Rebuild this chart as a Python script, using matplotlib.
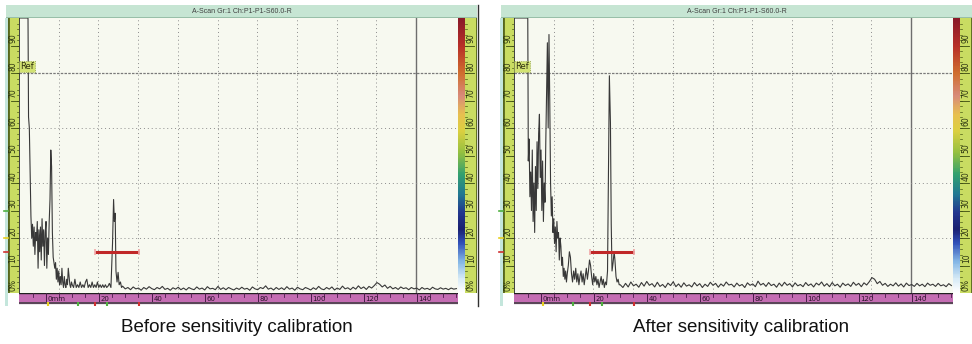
import numpy as np
import matplotlib
matplotlib.use("Agg")
import matplotlib.pyplot as plt
from matplotlib.colors import LinearSegmentedColormap
from matplotlib.lines import Line2D
from matplotlib.patches import Rectangle
from matplotlib.transforms import blended_transform_factory

W, H = 972, 344

# ---- data -----------------------------------------------------------------
scan_title = "A-Scan Gr:1 Ch:P1-P1-S60.0-R"
captions = ["Before sensitivity calibration", "After sensitivity calibration"]

amp_ticks = [0, 10, 20, 30, 40, 50, 60, 70, 80, 90]
amp_labels = ["0%", "10", "20", "30", "40", "50", "60", "70", "80", "90"]
mm_ticks = [0, 20, 40, 60, 80, 100, 120, 140]
mm_labels = ["0mm", "20", "40", "60", "80", "100", "120", "140"]

x_range = (-10.1, 155.6)      # mm shown across the A-scan
ref_level = 80                # %
gate_start, gate_end, gate_level = 18.6, 35.2, 15

bottom_marks_mm = [0.9, 12.2, 18.6, 23.1, 35.2]
bottom_marks_col = ["#e8d020", "#4fb040", "#d03030", "#4fb040", "#d03030"]
side_marks_amp = [30, 20, 15]
side_marks_col = ["#4fb040", "#e8d020", "#d03030"]

# before calibration: near part (mm, %)
before_near_mm = [-10.1, -6.7, -6.5, -6.2, -5.9, -5.6, -5.3, -5.0, -4.7, -4.4, -4.1, -3.8, -3.5,
                  -3.2, -2.9, -2.6, -2.3, -2.0, -1.7, -1.4, -1.1, -0.8, -0.5, -0.2, 0.1, 0.4, 0.7,
                  1.0, 1.3, 1.6, 1.9, 2.2, 2.5, 2.8, 3.1, 3.4, 3.7, 4.0, 4.3, 4.6, 4.9, 5.2, 5.5,
                  5.8, 6.1, 6.4, 6.7, 7.0, 7.3, 7.6, 7.9, 8.2, 8.5, 8.8, 9.1, 9.4, 9.7, 10.0, 10.5,
                  11.0, 11.5, 12.0, 12.5, 13.0, 13.5, 14.0, 14.5, 15.0, 15.5, 16.0, 16.5, 17.0,
                  17.5, 18.0, 18.5, 19.0, 19.5, 20.0, 20.5, 21.0, 21.5, 22.0, 22.5, 23.0, 23.5,
                  24.0, 24.6, 25.2, 25.6, 25.9, 26.2, 26.5, 26.9, 27.3, 27.7, 28.2, 28.6]
before_near_amp = [100, 100, 64, 60, 44, 28, 20, 25, 17, 24, 14, 22, 19,
                   26, 9, 23, 15, 24, 12, 27, 17, 23, 10, 22, 26, 9, 20,
                   14, 26, 34, 52, 46, 22, 13, 11, 9, 11, 5, 9, 4, 8, 3, 6,
                   3, 9, 4, 2, 6, 3, 2, 5, 3, 9, 6, 3, 2, 4, 3, 2,
                   5, 2, 3, 2, 4, 2, 3, 2, 4, 5, 2, 3, 2,
                   4, 2, 3, 2, 4, 2, 3, 2, 3, 2, 3, 2, 2.5,
                   3.5, 2, 18, 34, 26, 29, 8, 4, 7.5, 3, 4, 2]
# before calibration: far part, one value per mm from 29 mm
before_far_amp = [2.5, 1.5, 2, 1.2, 2.2, 1.5, 1.8, 1, 2, 1.4, 2.3, 1.6, 1.2, 2, 1.5, 2.4, 1.3, 1.7,
                  1, 1.9, 1.4, 2.1, 1.2, 1.8, 1.1, 2, 1.5, 1.2, 2.2, 1.4, 1.8, 1.1, 2.3, 1.5, 1.7,
                  1.2, 2.4, 1.3, 1.9, 1.2, 2, 1.5, 1.1, 1.8, 1.3, 2.1, 1.4, 1.7, 1, 2.2, 1.5, 1.2,
                  2, 1.6, 2.6, 1.4, 1.8, 1.1, 2, 1.3, 1.9, 1.2, 2.3, 1.4, 1.8, 1, 2.1, 1.5, 1.2, 2,
                  1.6, 1.1, 1.9, 1.3, 2.4, 1.5, 1.2, 2, 1.4, 2.2, 1.1, 1.8, 1.3, 2.5, 1.5, 1.9,
                  1.2, 2.1, 1.4, 2.6, 1.6, 2.2, 1.3, 2.4, 1.8, 2.7, 3.8, 3.2, 2.2, 2.9, 1.7, 2.4,
                  1.5, 2, 1.3, 2.2, 1.6, 1.9, 1.2, 2, 1.5, 1.8, 1.1, 2, 1.4, 1.7, 1.2, 2.1, 1.5,
                  1.3, 1.9, 1.4, 1.7, 1.2, 1.8, 1.4, 1.6]

# after calibration: near part (mm, %)
after_near_mm = [-10.1, -4.9, -4.7, -4.4, -4.1, -3.8, -3.5, -3.2, -2.9, -2.6, -2.3, -2.0, -1.7,
                 -1.4, -1.1, -0.8, -0.5, -0.2, 0.1, 0.4, 0.7, 1.0, 1.3, 1.6, 1.9, 2.2, 2.5, 2.8,
                 3.1, 3.4, 3.7, 4.0, 4.3, 4.6, 4.9, 5.2, 5.5, 5.8, 6.1, 6.4, 6.7, 7.0, 7.3, 7.6,
                 7.9, 8.2, 8.5, 8.8, 9.1, 9.4, 9.7, 10.0, 10.4, 10.8, 11.2, 11.6, 12.0, 12.4,
                 12.8, 13.2, 13.6, 14.0, 14.4, 14.8, 15.2, 15.6, 16.0, 16.4, 16.8, 17.2, 17.6,
                 18.0, 18.4, 18.8, 19.2, 19.6, 20.0, 20.4, 20.8, 21.2, 21.6, 22.0, 22.4, 22.8,
                 23.2, 23.6, 24.0, 24.4, 24.8, 25.2, 25.5, 25.9, 26.3, 26.6, 26.9, 27.3, 27.7,
                 28.0, 28.4, 28.8, 29.2, 29.6]
after_near_amp = [100, 100, 48, 56, 35, 44, 30, 52, 26, 40, 22, 46, 30,
                  55, 38, 58, 65, 42, 52, 30, 48, 26, 40, 33, 55, 72, 91, 60,
                  94, 70, 40, 28, 35, 22, 27, 18, 24, 15, 26, 20, 22, 12, 20, 17,
                  10, 13, 6, 9, 5, 8, 4, 7, 10, 15, 13, 7, 4, 8,
                  5, 9, 4, 7, 3, 6, 8, 4, 7, 3, 6, 9, 5,
                  8, 12, 10, 6, 3, 7, 4, 6, 3, 5, 2, 4, 6,
                  3, 5, 2, 4, 3, 8, 40, 79, 62, 25, 8, 11, 15,
                  12, 6, 4, 5, 3]
# after calibration: far part, one value per mm from 30 mm
after_far_amp = [3, 2, 3.5, 2.2, 4, 2.6, 3.2, 2.1, 3.8, 2.5, 4.2, 2.8, 3.4, 2.2, 3.9, 2.4, 3.1, 2,
                 3.6, 2.7, 4.1, 2.3, 3.3, 2.1, 3.7, 2.5, 3, 2.2, 3.8, 2.6, 3.4, 2, 3.2, 2.4, 3.9,
                 2.8, 3.5, 2.1, 3.3, 2.5, 4, 2.9, 3.2, 2.2, 3.6, 2.6, 3.1, 2, 3.7, 2.8, 3.3, 2.3,
                 4.3, 2.9, 3.5, 2.4, 3.8, 2.7, 3.2, 2.1, 3.6, 2.5, 3.9, 2.8, 3.4, 2.2, 3.7, 2.6,
                 3.1, 2.3, 3.8, 2.7, 3.3, 2.2, 3.6, 2.9, 4, 2.5, 3.4, 2.3, 3.8, 2.6, 3.2, 2.1, 3.6,
                 2.7, 3.3, 2.4, 3.9, 2.8, 3.5, 2.3, 3.7, 2.9, 4.1, 5.6, 5, 3.4, 4.2, 2.8, 3.5,
                 2.4, 3.2, 2.6, 3.7, 2.5, 3.3, 2.2, 3.6, 2.7, 3.1, 2.4, 3.5, 2.6, 3.2, 2.3, 3.6,
                 2.8, 3.2, 2.4, 3.5, 2.6, 3, 2.3, 3.4, 2.7]

before_mm = before_near_mm + list(np.arange(29, 29 + len(before_far_amp)))
before_amp = before_near_amp + before_far_amp
after_mm = after_near_mm + list(np.arange(30, 30 + len(after_far_amp)))
after_amp = after_near_amp + after_far_amp

# ---- style ----------------------------------------------------------------
plot_bg = "#f7f9f0"
ruler_col = "#c9dc62"
ruler_edge = "#56661c"
magenta = "#c46db3"
title_bg = "#c6e5d3"
trace_col = "#383838"

amp_cmap = LinearSegmentedColormap.from_list("amp", [
    (0.00, "#ffffff"), (0.05, "#d6eaf6"), (0.11, "#86b8e6"), (0.18, "#3050b8"),
    (0.23, "#1a2070"), (0.29, "#22368e"), (0.36, "#227a92"), (0.43, "#32a070"),
    (0.51, "#94c040"), (0.59, "#dcd040"), (0.65, "#e8c050"), (0.72, "#d88a7a"),
    (0.80, "#d07030"), (0.90, "#b83028"), (1.00, "#8a1a28")])

fig = plt.figure(figsize=(W / 100, H / 100), dpi=100)
fig.patch.set_facecolor("white")


def px(x0, y0, x1, y1):
    # pixel box (top-left origin) -> figure fraction rect
    return [x0 / W, 1 - y1 / H, (x1 - x0) / W, (y1 - y0) / H]


def bare(ax, face):
    ax.set_facecolor(face)
    ax.set_xticks([])
    ax.set_yticks([])
    for s in ax.spines.values():
        s.set_visible(False)


def amp_ruler(x0, x1, side):
    r = fig.add_axes(px(x0, 18, x1, 293))
    bare(r, ruler_col)
    r.set_xlim(0, 1)
    r.set_ylim(0, 100)
    if side == "left":
        edge, tick_x, lab_x = 0.0, (0.82, 1.0), 0.45
        major = (0.25, 1.0)
    else:
        edge, tick_x, lab_x = 1.0, (0.0, 0.18), 0.52
        major = (0.0, 0.78)
    r.axvline(edge, color=ruler_edge, lw=2)
    for v in range(2, 100, 2):
        r.plot(tick_x, [v, v], color="#4a5a14", lw=0.5)
    for v, lab in zip(amp_ticks, amp_labels):
        r.plot(major, [v, v], color="#3a4a10", lw=0.6)
        r.text(lab_x, v + 0.8, lab, rotation=90, ha="center", va="bottom",
               fontsize=5.5, color="#2a3210", family="DejaVu Sans")
    return r


def draw_panel(dx, x_mm, amp, caption, caption_x):
    # light strip and frame line
    fig.add_artist(Rectangle(((5 + dx) / W, 1 - 306 / H), 2.5 / W, 288 / H,
                             transform=fig.transFigure, color="#c4e6dc", lw=0))
    fig.add_artist(Line2D([(477.5 + dx) / W] * 2, [1 - 5 / H, 1 - 306 / H],
                          transform=fig.transFigure, color="#303030", lw=1))

    tb = fig.add_axes(px(6 + dx, 5, 477 + dx, 18))
    bare(tb, title_bg)
    tb.axhline(0, color="#8fb8a0", lw=1.2)
    tb.text(0.5, 0.5, scan_title, ha="center", va="center", fontsize=5,
            color="#404040", transform=tb.transAxes, family="Liberation Sans")

    ax = fig.add_axes(px(19 + dx, 18, 458 + dx, 293))
    bare(ax, plot_bg)
    ax.set_xlim(x_range)
    ax.set_ylim(0, 100)
    step = (x_range[1] - x_range[0]) * 39.7 / 439
    for k in range(1, 10):
        ax.axvline(x_range[0] + k * step, color="#8c8c8c", lw=0.7, ls=(0, (1, 3)))
    ax.axvline(x_range[0] + 10 * step, color="#6e6e6e", lw=1)
    for v in [20, 40, 60]:
        ax.axhline(v, color="#8c8c8c", lw=0.7, ls=(0, (1, 3)))
    ax.axhline(ref_level, color="#7a7a7a", lw=0.9, ls=(0, (2, 1)))
    ax.axvline(x_range[0], color="#202020", lw=1.2)

    ax.plot(x_mm, amp, color=trace_col, lw=0.8)

    ax.plot([gate_start, gate_end], [gate_level, gate_level], color="#c02828",
            lw=2.2, solid_capstyle="butt")
    ax.plot([gate_start, gate_end], [gate_level, gate_level], ls="none",
            marker="|", ms=4, mew=1.2, color="#f0a8a8")

    ax.text(x_range[0] + 0.5, ref_level + 0.8, "Ref", fontsize=6, color="#303010",
            ha="left", va="bottom", family="DejaVu Sans",
            bbox=dict(boxstyle="square,pad=0.15", fc="#d2e272", ec="#8a9a40",
                      ls=":", lw=0.6))

    # color bar
    cb = fig.add_axes(px(458 + dx, 18, 465 + dx, 293))
    bare(cb, "white")
    cb.imshow(np.linspace(1, 0, 200).reshape(-1, 1), cmap=amp_cmap, aspect="auto",
              extent=(0, 1, 0, 100))

    amp_ruler(8 + dx, 19 + dx, "left")
    amp_ruler(465 + dx, 477 + dx, "right")

    # side markers on the left of the ruler
    tr = blended_transform_factory(fig.transFigure, ax.transData)
    for v, c in zip(side_marks_amp, side_marks_col):
        fig.add_artist(Line2D([(3.5 + dx) / W, (7.5 + dx) / W], [v, v], transform=tr,
                              color=c, lw=1.2))

    # bottom mm ruler
    br = fig.add_axes(px(19 + dx, 293, 458 + dx, 302))
    bare(br, magenta)
    br.set_xlim(x_range)
    br.set_ylim(0, 1)
    br.axhline(1, color="#202020", lw=1)
    for t in range(-5, 156, 5):
        br.plot([t, t], [0.6, 1], color="#4a1e4a", lw=0.6)
    for t, lab in zip(mm_ticks, mm_labels):
        br.plot([t, t], [0, 1], color="#4a1e4a", lw=0.7)
        br.text(t + 0.6, 0.38, lab, fontsize=5, ha="left", va="center",
                color="#2a102a", family="DejaVu Sans")

    bl = fig.add_axes(px(19 + dx, 302, 458 + dx, 306))
    bare(bl, "white")
    bl.set_xlim(x_range)
    bl.set_ylim(0, 1)
    bl.axhline(0.7, color="#5a4658", lw=1.6)
    for m, c in zip(bottom_marks_mm, bottom_marks_col):
        bl.plot([m, m], [0.1, 1], color=c, lw=1.5)

    fig.text(caption_x / W, 1 - 328 / H, caption, ha="center", va="center",
             fontsize=13.5, color="#111111", family="Liberation Sans")


draw_panel(0, before_mm, before_amp, captions[0], 237)
draw_panel(495, after_mm, after_amp, captions[1], 741)

fig.savefig("out.png", dpi=100)
